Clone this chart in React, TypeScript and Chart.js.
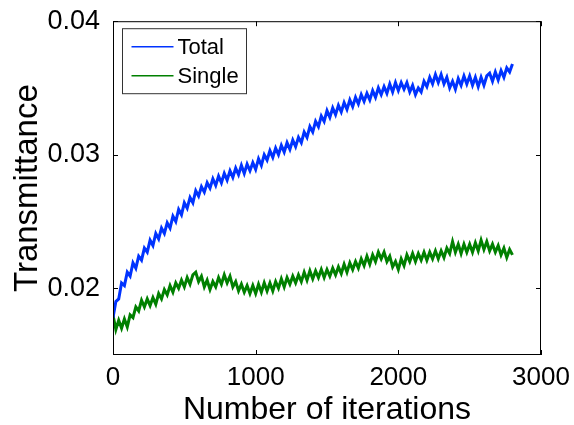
import React, { useEffect, useRef } from "react";
import { Chart, registerables } from "chart.js";

Chart.register(...registerables);

// sampled every 20 iterations, 0..2800
const STEP = 20;

const totalT = [
  0.0178, 0.0190, 0.0192, 0.0204, 0.0202, 0.0212, 0.0209, 0.0219, 0.0215, 0.0224,
  0.0221, 0.0230, 0.0227, 0.0236, 0.0232, 0.0241, 0.0237, 0.0245, 0.0241, 0.0249,
  0.0245, 0.0254, 0.0250, 0.0259, 0.0255, 0.0264, 0.0260, 0.0268, 0.0264, 0.0273,
  0.0269, 0.0276, 0.0272, 0.0279, 0.0275, 0.0282, 0.0277, 0.0284, 0.0279, 0.0286,
  0.0281, 0.0288, 0.0283, 0.0290, 0.0285, 0.0292, 0.0286, 0.0293, 0.0288, 0.0294,
  0.0289, 0.0297, 0.0292, 0.0300, 0.0296, 0.0303, 0.0298, 0.0305, 0.0300, 0.0307,
  0.0302, 0.0309, 0.0304, 0.0311, 0.0306, 0.0313, 0.0309, 0.0317, 0.0313, 0.0321,
  0.0317, 0.0325, 0.0321, 0.0329, 0.0325, 0.0333, 0.0328, 0.0335, 0.0330, 0.0337,
  0.0332, 0.0339, 0.0334, 0.0341, 0.0336, 0.0343, 0.0338, 0.0345, 0.0340, 0.0346,
  0.0341, 0.0348, 0.0343, 0.0350, 0.0345, 0.0351, 0.0346, 0.0353, 0.0347, 0.0354,
  0.0348, 0.0354, 0.0349, 0.0354, 0.0347, 0.0352, 0.0345, 0.0350, 0.0347, 0.0355,
  0.0351, 0.0358, 0.0353, 0.0360, 0.0354, 0.0360, 0.0353, 0.0358, 0.0350, 0.0355,
  0.0349, 0.0357, 0.0352, 0.0359, 0.0353, 0.0359, 0.0352, 0.0358, 0.0351, 0.0358,
  0.0352, 0.0359, 0.0361, 0.0355, 0.0362, 0.0356, 0.0363, 0.0358, 0.0365, 0.0362,
  0.0368,
];

const singleT = [
  0.0180, 0.0169, 0.0176, 0.0170, 0.0177, 0.0171, 0.0180, 0.0178, 0.0186, 0.0183,
  0.0191, 0.0186, 0.0192, 0.0187, 0.0193, 0.0188, 0.0196, 0.0192, 0.0199, 0.0195,
  0.0202, 0.0197, 0.0204, 0.0200, 0.0206, 0.0201, 0.0208, 0.0203, 0.0210, 0.0212,
  0.0205, 0.0209, 0.0201, 0.0206, 0.0199, 0.0205, 0.0201, 0.0208, 0.0203, 0.0210,
  0.0204, 0.0209, 0.0201, 0.0205, 0.0198, 0.0203, 0.0197, 0.0202, 0.0196, 0.0202,
  0.0196, 0.0203, 0.0197, 0.0204, 0.0198, 0.0204, 0.0198, 0.0205, 0.0200, 0.0207,
  0.0201, 0.0208, 0.0203, 0.0209, 0.0204, 0.0210, 0.0205, 0.0212, 0.0206, 0.0213,
  0.0207, 0.0213, 0.0208, 0.0214, 0.0208, 0.0214, 0.0209, 0.0215, 0.0210, 0.0216,
  0.0211, 0.0218, 0.0212, 0.0219, 0.0214, 0.0220, 0.0215, 0.0222, 0.0217, 0.0224,
  0.0218, 0.0225, 0.0220, 0.0227, 0.0222, 0.0227, 0.0220, 0.0224, 0.0216, 0.0220,
  0.0214, 0.0222, 0.0217, 0.0225, 0.0220, 0.0226, 0.0220, 0.0226, 0.0221, 0.0227,
  0.0221, 0.0227, 0.0222, 0.0228, 0.0222, 0.0228, 0.0223, 0.0230, 0.0226, 0.0235,
  0.0227, 0.0233, 0.0226, 0.0233, 0.0227, 0.0233, 0.0227, 0.0234, 0.0228, 0.0236,
  0.0229, 0.0235, 0.0228, 0.0233, 0.0227, 0.0232, 0.0225, 0.0230, 0.0223, 0.0229,
  0.0225,
];

const seriesLabels = ["Total", "Single"];
const seriesColors = ["#0033ff", "#008000"];
const xTicks = [0, 1000, 2000, 3000];
const yTicks = [0.02, 0.03, 0.04];

const FONT = "'Liberation Sans', Arial, sans-serif";

const framePlugin = {
  id: "frameAndLegend",
  afterDatasetsDraw(chart: any) {
    const { ctx, chartArea: a, scales } = chart;
    ctx.save();
    ctx.strokeStyle = "#000";
    ctx.lineWidth = 1;
    ctx.strokeRect(a.left + 0.5, a.top + 0.5, a.right - a.left - 1, a.bottom - a.top - 1);
    const tl = 5;
    ctx.beginPath();
    for (const v of xTicks) {
      const x = Math.round(scales.x.getPixelForValue(v)) + 0.5;
      ctx.moveTo(x, a.bottom);
      ctx.lineTo(x, a.bottom - tl);
      ctx.moveTo(x, a.top);
      ctx.lineTo(x, a.top + tl);
    }
    for (const v of yTicks) {
      const y = Math.round(scales.y.getPixelForValue(v)) + 0.5;
      ctx.moveTo(a.left, y);
      ctx.lineTo(a.left + tl, y);
      ctx.moveTo(a.right, y);
      ctx.lineTo(a.right - tl, y);
    }
    ctx.stroke();

    // legend box
    const bx = a.left + 9.5;
    const by = a.top + 7.5;
    const bw = 124;
    const bh = 65;
    ctx.fillStyle = "#fff";
    ctx.fillRect(bx, by, bw, bh);
    ctx.strokeStyle = "#333";
    ctx.lineWidth = 1;
    ctx.strokeRect(bx, by, bw, bh);
    ctx.font = "22px " + FONT;
    ctx.textBaseline = "middle";
    ctx.textAlign = "left";
    chart.data.datasets.forEach((ds: any, i: number) => {
      const y = by + 18 + i * 29;
      ctx.strokeStyle = ds.borderColor;
      ctx.lineWidth = 1.5;
      ctx.beginPath();
      ctx.moveTo(bx + 9, y);
      ctx.lineTo(bx + 51, y);
      ctx.stroke();
      ctx.fillStyle = "#000";
      ctx.fillText(ds.label, bx + 55, y + 1);
    });
    ctx.restore();
  },
};

export default function App() {
  const ref = useRef<HTMLCanvasElement | null>(null);
  useEffect(() => {
    document.body.style.margin = "0";
    const iterations = totalT.map((_, i) => i * STEP);
    const chart = new Chart(ref.current as HTMLCanvasElement, {
      type: "line",
      data: {
        datasets: [totalT, singleT].map((vals, k) => ({
          label: seriesLabels[k],
          data: vals.map((v, i) => ({ x: iterations[i], y: v })),
          borderColor: seriesColors[k],
          backgroundColor: seriesColors[k],
          borderWidth: 3,
          pointRadius: 0,
          tension: 0,
          fill: false,
        })),
      },
      options: {
        animation: false,
        responsive: false,
        devicePixelRatio: 1,
        layout: { padding: { top: 17, right: 33, left: 0, bottom: 0 } },
        plugins: { legend: { display: false }, tooltip: { enabled: false } },
        scales: {
          x: {
            type: "linear",
            min: 0,
            max: 3000,
            grid: { display: false },
            border: { display: false },
            afterBuildTicks: (s: any) => {
              s.ticks = xTicks.map((v) => ({ value: v }));
            },
            afterFit: (s: any) => {
              s.height = 70;
            },
            ticks: {
              font: { family: FONT, size: 26 },
              color: "#000",
              padding: -1,
              maxRotation: 0,
              callback: (v: any) => String(v),
            },
            title: {
              display: true,
              text: "Number of iterations",
              font: { family: FONT, size: 32, lineHeight: 0.9 },
              color: "#000",
              padding: { top: 0, bottom: 0 },
            },
          },
          y: {
            type: "linear",
            min: 0.015,
            max: 0.04,
            grid: { display: false },
            border: { display: false },
            afterBuildTicks: (s: any) => {
              s.ticks = yTicks.map((v) => ({ value: v }));
            },
            afterFit: (s: any) => {
              s.width = 113;
            },
            ticks: {
              font: { family: FONT, size: 27 },
              color: "#000",
              padding: 5,
              callback: (v: any) => Number(v).toFixed(2),
            },
            title: {
              display: true,
              text: "Transmittance",
              font: { family: FONT, size: 33 },
              color: "#000",
              padding: { top: 8, bottom: 0 },
            },
          },
        },
      },
      plugins: [framePlugin],
    });
    return () => chart.destroy();
  }, []);
  return (
    <div style={{ position: "absolute", left: 0, top: 0, width: 574, height: 425, background: "#fff" }}>
      <canvas ref={ref} width={574} height={425} style={{ width: 574, height: 425 }} />
    </div>
  );
}
